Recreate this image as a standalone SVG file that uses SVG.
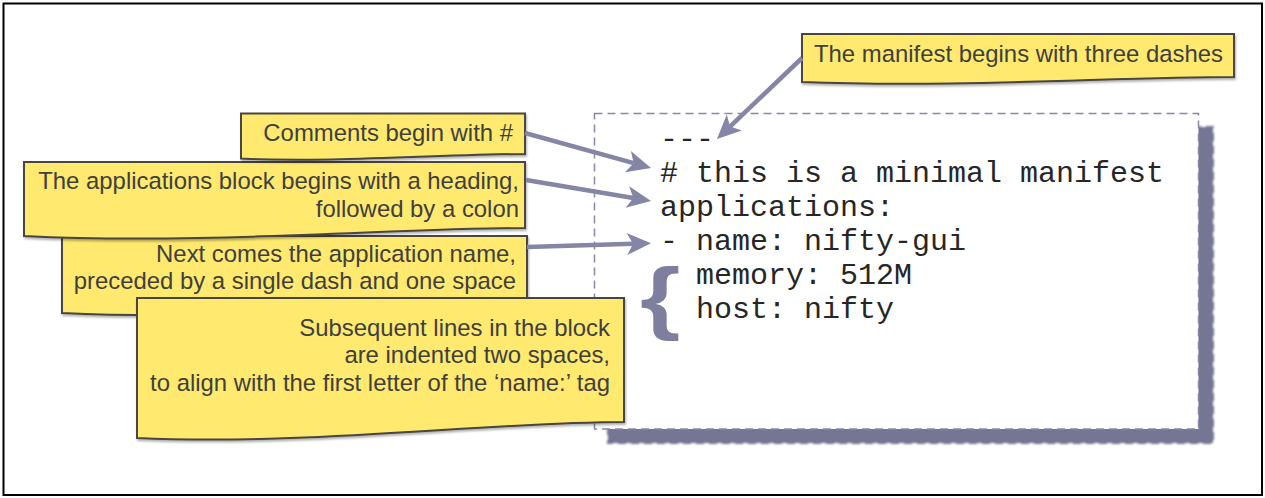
<svg xmlns="http://www.w3.org/2000/svg" width="1265" height="498" viewBox="0 0 1265 498">
<style>
.note{fill:#ffe96e;stroke:#4a4540;stroke-width:2;filter:url(#ns)}
.nt{font-family:"Liberation Sans",Arial,sans-serif;font-size:23.9px;fill:#404040;text-anchor:end}
.code{font-family:"Liberation Mono","Courier New",monospace;font-size:30px;fill:#262626}
.conn{stroke:#8585a5;stroke-width:4.5;fill:none;marker-end:url(#ah)}
</style>
<defs>
<filter id="ns" x="-5%" y="-10%" width="110%" height="130%">
<feDropShadow dx="1" dy="2" stdDeviation="1.2" flood-color="#000" flood-opacity="0.3"/>
</filter>
<filter id="bl" x="-5%" y="-5%" width="110%" height="110%">
<feGaussianBlur stdDeviation="1.2"/>
</filter>
<marker id="ah" markerUnits="userSpaceOnUse" markerWidth="30" markerHeight="30" viewBox="-2 -13 30 26" refX="6" refY="0" orient="auto">
<path d="M0,-11 L24,0 L0,11 L6,0 Z" fill="#8585a5"/>
</marker>
</defs>
<rect x="3.5" y="3.5" width="1258.5" height="491.5" fill="#fff" stroke="#000" stroke-width="2"/>
<g id="codebox">
<rect x="608" y="127" width="605" height="316" fill="#747494" stroke="#747494" stroke-width="2" stroke-dasharray="8,5" filter="url(#bl)"/>
<rect x="594.5" y="113.5" width="604" height="315.5" fill="#fff" stroke="#8888a8" stroke-width="1.5" stroke-dasharray="8,5"/>
<text class="code" x="660" y="148">---</text>
<text class="code" x="660" y="182" xml:space="preserve"># this is a minimal manifest</text>
<text class="code" x="660" y="216">applications:</text>
<text class="code" x="660" y="250" xml:space="preserve">- name: nifty-gui</text>
<text class="code" x="696" y="284" xml:space="preserve">memory: 512M</text>
<text class="code" x="696" y="318" xml:space="preserve">host: nifty</text>
<text x="0" y="0" transform="translate(640,324) scale(1.3,1)" font-family="Liberation Sans,Arial,sans-serif" font-weight="bold" font-size="80" fill="#7e7e9e">{</text>
</g>
<g id="note3">
<path class="note" d="M62,236 H527 V305 C418,305 225,321 62,313 Z"/>
<text class="nt" x="516" y="262">Next comes the application name,</text>
<text class="nt" x="516" y="289">preceded by a single dash and one space</text>
</g>
<g id="note2">
<path class="note" d="M24,162 H525 V228 C400,228 200,245 24,236 Z"/>
<text class="nt" x="519" y="189">The applications block begins with a heading,</text>
<text class="nt" x="519" y="217">followed by a colon</text>
</g>
<g id="note4">
<path class="note" d="M137,298 H624 V422 C490,422 305,446 137,438 Z"/>
<text class="nt" x="610" y="336">Subsequent lines in the block</text>
<text class="nt" x="610" y="363">are indented two spaces,</text>
<text class="nt" x="610" y="391">to align with the first letter of the ‘name:’ tag</text>
</g>
<g id="note1">
<path class="note" d="M241,113.5 H525 V154 C450,154 330,163 241,158.5 Z"/>
<text class="nt" x="513" y="141">Comments begin with #</text>
</g>
<g id="note0">
<path class="note" d="M802,34 H1234 V77 C1115,77 960,88 802,82 Z"/>
<text class="nt" x="1223" y="62">The manifest begins with three dashes</text>
</g>
<g id="connectors">
<line class="conn" x1="802" y1="58" x2="730" y2="126.6"/>
<line class="conn" x1="525" y1="133" x2="633.7" y2="163.2"/>
<line class="conn" x1="526" y1="180" x2="633.3" y2="198"/>
<line class="conn" x1="527" y1="247" x2="633" y2="243.7"/>
</g>
</svg>
